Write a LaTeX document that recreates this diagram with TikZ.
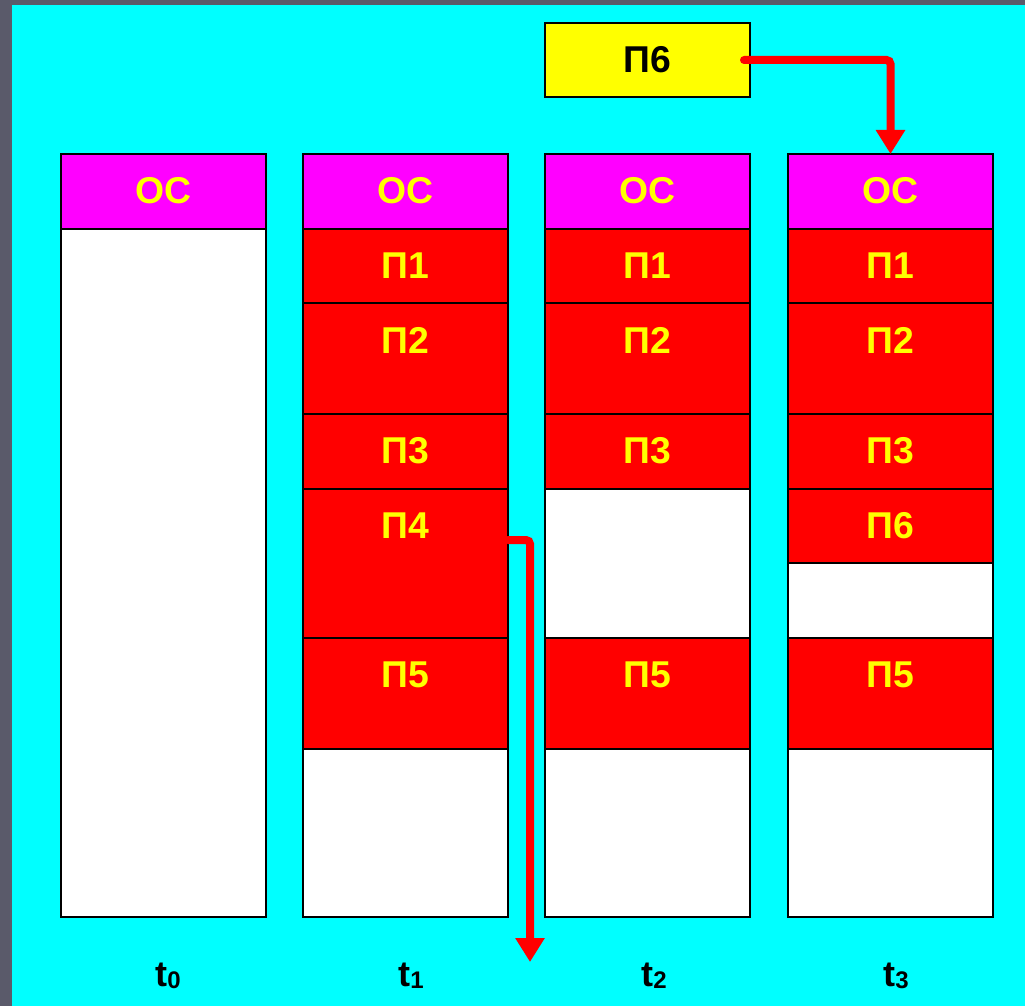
\documentclass[tikz,border=0pt]{standalone}
\usepackage{fontspec}
\setmainfont{Liberation Sans}
\usetikzlibrary{arrows.meta}
\definecolor{frame}{RGB}{90,90,106}
\definecolor{sea}{RGB}{0,255,255}
\definecolor{osmag}{RGB}{255,0,255}
\definecolor{prog}{RGB}{255,0,0}
\definecolor{gold}{RGB}{255,255,0}
\tikzset{
  cellbox/.style={draw=black, line width=1.1pt, minimum width={205*0.75pt},
    inner sep=0pt, outer sep=0pt, anchor=north west},
  celltext/.style={text=gold, font=\bfseries\fontsize{28}{30}\selectfont, inner sep=0pt},
  timelabel/.style={text=black, font=\bfseries\fontsize{27}{29}\selectfont, inner sep=0pt},
  move/.style={draw=prog, line width=6pt, line cap=round, rounded corners=3pt,
    -{Triangle[length=18pt,width=21pt]}}
}
% one memory block: name, left x, top y, height (px), fill, text
\newcommand\memcell[6]{%
  \node[cellbox, fill=#5, minimum height={#4*0.75pt}] (#1) at (#2,#3) {};
  \node[celltext] (#1t) at ([yshift=-27.75pt]#1.north) {#6};
}
\newcommand\memfree[4]{%
  \node[cellbox, fill=white, minimum height={#4*0.75pt}] (#1) at (#2,#3) {};
}
% time index with a large, slightly lowered subscript
\newcommand\tidx[1]{t\raisebox{-1.5pt}{\fontsize{18}{20}\selectfont #1}}
\begin{document}
\begin{tikzpicture}[x=0.75pt, y=-0.75pt]
  \fill[frame] (0,0) rectangle (1025,1006);
  \fill[sea] (12,5) rectangle (1025,1006);
  \useasboundingbox (0,0) rectangle (1025,1006);

  % t0
  \memcell{a0}{61}{154}{75}{osmag}{ОС}
  \memfree{a1}{61}{229}{688}

  % t1
  \memcell{b0}{303}{154}{75}{osmag}{ОС}
  \memcell{b1}{303}{229}{74}{prog}{П1}
  \memcell{b2}{303}{303}{111}{prog}{П2}
  \memcell{b3}{303}{414}{75}{prog}{П3}
  \memcell{b4}{303}{489}{149}{prog}{П4}
  \memcell{b5}{303}{638}{111}{prog}{П5}
  \memfree{b6}{303}{749}{168}

  % t2
  \memcell{c0}{545}{154}{75}{osmag}{ОС}
  \memcell{c1}{545}{229}{74}{prog}{П1}
  \memcell{c2}{545}{303}{111}{prog}{П2}
  \memcell{c3}{545}{414}{75}{prog}{П3}
  \memfree{c4}{545}{489}{149}
  \memcell{c5}{545}{638}{111}{prog}{П5}
  \memfree{c6}{545}{749}{168}

  % t3
  \memcell{d0}{788}{154}{75}{osmag}{ОС}
  \memcell{d1}{788}{229}{74}{prog}{П1}
  \memcell{d2}{788}{303}{111}{prog}{П2}
  \memcell{d3}{788}{414}{75}{prog}{П3}
  \memcell{d4}{788}{489}{74}{prog}{П6}
  \memfree{d5}{788}{563}{75}
  \memcell{d6}{788}{638}{111}{prog}{П5}
  \memfree{d7}{788}{749}{168}

  % incoming program
  \node[cellbox, fill=gold, minimum height={74*0.75pt}] (p6) at (545,23) {};
  \node[celltext, text=black] (p6t) at (p6.center) {П6};

  % time labels
  \node[timelabel] (t0) at (168,976) {\tidx{0}};
  \node[timelabel] (t1) at (411,976) {\tidx{1}};
  \node[timelabel] (t2) at (654,976) {\tidx{2}};
  \node[timelabel] (t3) at (896,976) {\tidx{3}};

  % П4 leaves memory, П6 is loaded
  \coordinate (outP4) at (530,962);
  \draw[move] ([yshift=-38.25pt]b4.north east) -| (outP4);
  \draw[move] ([xshift=-4.5pt]p6.east) -| (d0.north);
\end{tikzpicture}
\end{document}
